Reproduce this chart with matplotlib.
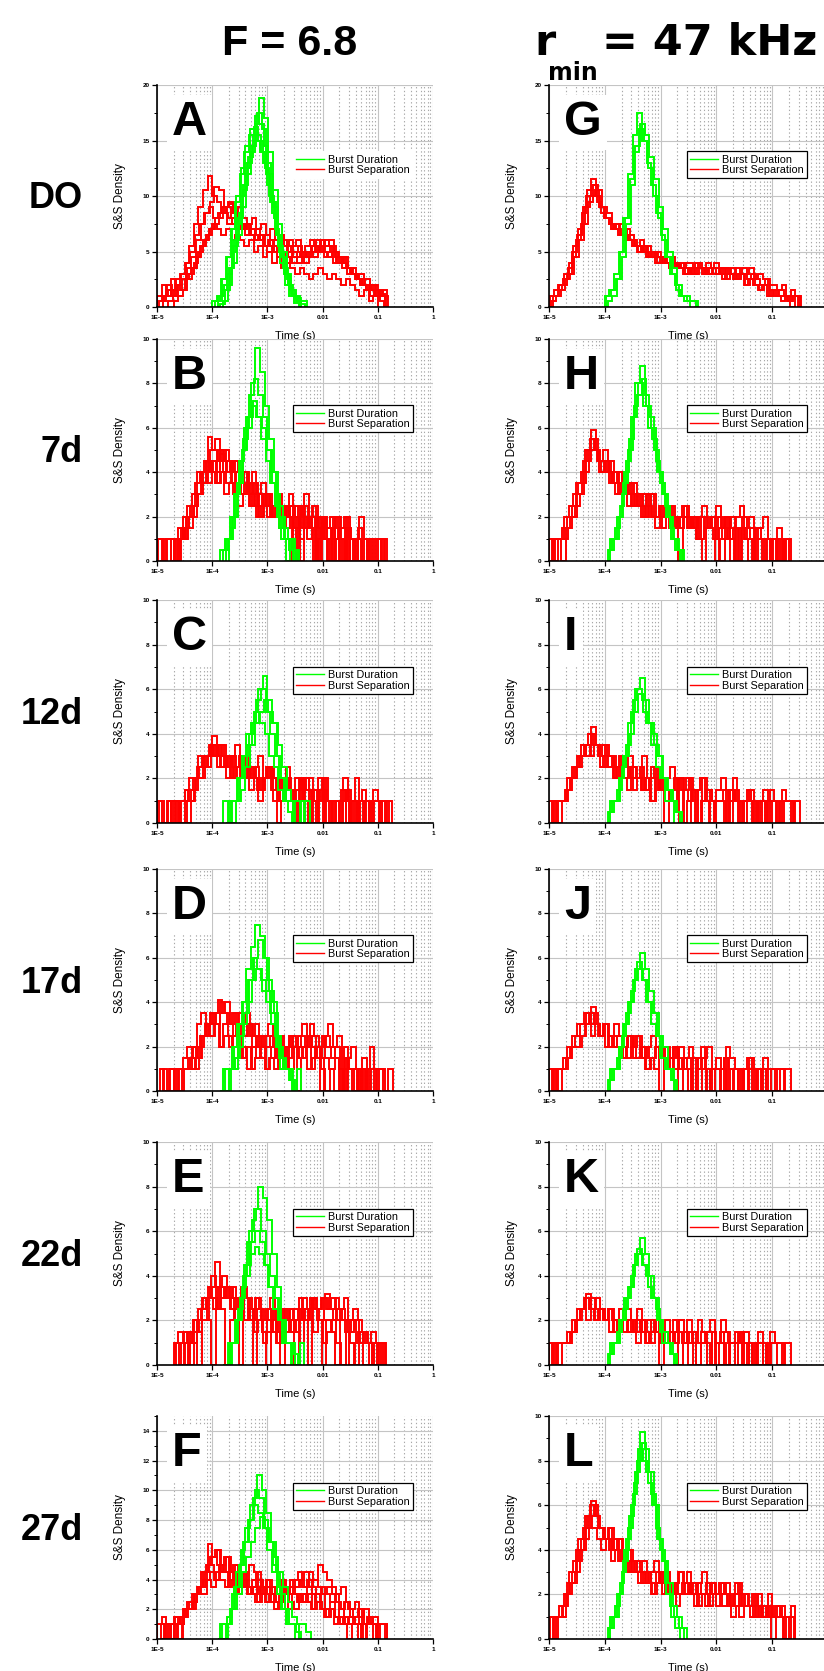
import numpy as np
import matplotlib
matplotlib.use('Agg')
import matplotlib.pyplot as plt
from matplotlib.lines import Line2D
from matplotlib.ticker import MultipleLocator, FixedLocator, NullFormatter

plt.rcParams['font.family'] = ['Liberation Sans', 'DejaVu Sans']

# ---------------- data ----------------
BIN_STEP = 1 / 12  # histogram bin width in decades

x_ticks = [1e-5, 1e-4, 1e-3, 1e-2, 1e-1, 1]
x_tick_labels = ['1E-5', '1E-4', '1E-3', '0.01', '0.1', '1']
row_labels = ['DO', '7d', '12d', '17d', '22d', '27d']
left_letters = ['A', 'B', 'C', 'D', 'E', 'F']
right_letters = ['G', 'H', 'I', 'J', 'K', 'L']
legend_labels = ['Burst Duration', 'Burst Separation']
header_left = 'F = 6.8'
y_max = {'A': 20, 'B': 10, 'C': 10, 'D': 10, 'E': 10, 'F': 15,
         'G': 20, 'H': 10, 'I': 10, 'J': 10, 'K': 10, 'L': 10}
y_step = {'A': 5, 'B': 2, 'C': 2, 'D': 2, 'E': 2, 'F': 2,
          'G': 5, 'H': 2, 'I': 2, 'J': 2, 'K': 2, 'L': 2}

# ---- Panel A ----
A_green_start = [-3.9, -3.85, -4.0, -3.9, -3.8, -3.95]
A_green = [
    [0.5, 1.5, 3, 5, 7.5, 10, 12.5, 14.5, 16.5, 18.8, 17, 14, 10.5, 7.5, 5, 3, 1.5, 0.8, 0.3],
    [0.3, 1.5, 3.5, 6, 8.5, 11, 13.5, 15.5, 17.5, 16, 13, 9.5, 6.5, 4, 2, 1, 0.4],
    [0.5, 1, 2.5, 4.5, 7, 9.5, 12, 14, 15.5, 16.2, 15, 13, 11, 8.5, 6.5, 4.5, 3, 1.5, 1],
    [1, 2.5, 4.5, 7, 10, 12.5, 14.5, 16, 17.2, 16.5, 14.5, 12, 9, 6.5, 4.5, 2.5, 1.2, 0.5],
    [0.5, 2, 4, 6.5, 9, 12, 14, 15, 14, 12.5, 10, 8, 5.5, 3.5, 2, 1, 0.5],
    [0.5, 1, 2, 3.5, 5.5, 8, 10.5, 13, 14.5, 15.5, 14, 12, 9.5, 7, 5, 3, 2, 1, 0.5, 0.5],
]
A_red_start = [-5.0, -4.96, -4.7, -5.0, -4.9, -4.8]
A_red = [
    [1, 2, 1, 2.5, 2, 3, 4, 5.5, 7.5, 9, 10.5, 11.8, 10, 9.5, 8.5, 9, 8, 7.5,
     7, 7.5, 6.5, 6, 6.5, 5.5, 5, 5.5, 4.5, 5, 4, 4.5, 4.5, 5, 4, 5, 4.5, 5.5,
     5, 4.5, 5.5, 4, 4.5, 3.5, 3, 2.5, 3, 2, 1.5, 2, 1, 1.5],
    [0.5, 1, 1.5, 1, 2, 2.5, 3.5, 4.5, 6, 7.5, 8.5, 9.5, 10.8, 10.5, 9, 9.5, 8.5, 8,
     7, 7.5, 6.5, 7, 6, 6.5, 5.5, 6, 5, 5.5, 4.5, 5, 4, 4.5, 5, 5.5, 6, 5,
     5.5, 6, 5, 4.5, 4, 3.5, 3, 2.5, 2, 1.5, 2, 1, 1],
    [0.5, 1, 1.5, 2.5, 3.5, 4.5, 5.5, 6.5, 7, 8, 8.5, 9, 9.3, 8.5, 9, 8, 7.5, 8,
     7, 7.5, 6.5, 7, 6, 6.5, 5.5, 6, 5, 5.5, 4.5, 5, 5.5, 5, 6, 5.5, 5, 4.5,
     4, 4.5, 3.5, 3, 2.5, 2, 1.5, 2, 1, 1.2],
    [1, 0.5, 1.5, 1, 2, 1.5, 2.5, 3, 4, 5, 6, 6.5, 7.5, 7, 6.5, 7, 6, 6.5,
     6, 5.5, 6, 5, 5.5, 4.5, 5, 4, 4.5, 3.5, 4, 3.5, 3, 3.5, 3, 2.5, 3, 3.5,
     3, 2.5, 3, 2.5, 2, 2.5, 2, 1.5, 1, 1.5, 0.5, 1],
    [1, 2, 1.5, 2.5, 3, 4, 5, 6.5, 7.5, 8.5, 9, 8, 8.5, 9, 7.5, 8, 7, 7.5,
     6.5, 7, 6, 6.5, 5.5, 6, 5, 5.5, 6, 5, 5.5, 6, 5, 5.5, 6, 5.5, 5, 4.5,
     5, 4, 4.5, 3.5, 3, 3.5, 2.5, 2, 2.5, 1.5, 1, 1.5, 1],
    [0.5, 1, 2, 1.5, 3, 3.5, 4.5, 5.5, 6, 7, 7.5, 8, 8.5, 8, 7.5, 8.5, 7, 7.5,
     6.5, 7, 6, 5.5, 6, 5, 5.5, 4.5, 5, 4, 4.5, 5, 4.5, 5, 5.5, 5, 6, 5.5,
     5, 4.5, 4, 3.5, 3, 2.5, 2, 1.5, 1, 1.5, 0.5],
]

# ---- Panel B ----
B_green_start = [-3.8, -3.75, -3.85, -3.7]
B_green = [
    [0.5, 1, 2, 3.5, 5, 6.5, 8, 9.6, 8.5, 7, 5.5, 4, 2.5, 1.5, 1, 0.5],
    [1, 1.5, 3, 4.5, 6, 7.5, 8.2, 7.5, 6.5, 5, 3.5, 2, 1, 0, 1],
    [0.5, 1, 2, 3, 4.5, 5.5, 6.5, 7.2, 6.5, 6, 5, 4, 3, 2, 1, 1, 0.5],
    [1, 2, 3.5, 5, 6, 7, 6.5, 5.5, 4.5, 3.5, 2.5, 1.5, 1, 0.5],
]
B_red_start = [-5.0, -4.95, -4.6, -4.75, -4.98, -4.7]
B_red = [
    [1, 0, 1, 0, 1, 1, 1.5, 2, 2.5, 3, 4, 5.6, 5, 4.5, 5, 4, 4.5, 4,
     3.5, 4, 3, 3.5, 3, 2.5, 3, 2.5, 3, 2, 2.5, 2, 2.5, 0, 3, 2, 2.5, 1.5,
     2, 0, 1.5, 2, 1, 2, 0, 1, 2, 0, 1, 1, 0, 1],
    [0, 1, 1, 0, 1.5, 1, 2, 2.5, 3, 4, 4.5, 5, 5.5, 4.5, 5, 4.5, 4, 4.5,
     4, 3.5, 4, 3, 3.5, 3, 2.5, 3, 2, 2.5, 3, 2, 2.5, 2, 1.5, 2.5, 0, 2,
     1.5, 2, 0, 1.5, 2, 1, 0, 1.5, 0, 1, 1, 0, 1],
    [1, 1, 1.5, 2, 3, 3.5, 4, 4.5, 4, 4.8, 4.5, 4, 4.5, 3.5, 4, 3, 3.5, 2.5,
     3, 2.5, 2, 3, 2.5, 2, 2.5, 1.5, 2, 2.5, 1.5, 2, 0, 2, 1.5, 1, 2, 0,
     1.5, 1, 0, 1, 1, 0, 1, 1],
    [1, 0, 1, 1.5, 2, 2.5, 3, 4, 3.5, 4.5, 3.5, 4, 3.5, 4, 3, 3.5, 3, 2.5,
     3, 2, 2.5, 2, 2.5, 2, 2, 1.5, 2.5, 2, 1, 2, 1.5, 0, 1, 2, 1, 0,
     1, 1, 0, 1],
    [1, 0, 1, 1, 0, 1.5, 2, 2.5, 3.5, 4, 4.5, 4, 4.5, 5, 4, 4.5, 3.5, 4,
     3, 3.5, 2.5, 3, 2, 3, 2.5, 2, 3, 2.5, 2, 0, 2, 2.5, 1.5, 2, 0, 2,
     1, 0, 2, 1, 0, 1.5, 1, 0, 1, 1, 0, 1, 1, 0],
    [1, 1, 2, 2.5, 3, 4, 3.5, 4.5, 4, 3.5, 4, 3, 3.5, 3, 2.5, 3, 3.5, 2.5,
     2, 2.5, 3, 2, 2.5, 1.5, 2, 2.5, 0, 2, 1.5, 1, 2, 0, 1.5, 1, 0, 1,
     1, 0, 1, 1, 0, 1],
]

# ---- Panel C ----
C_green_start = [-3.75, -3.7, -3.65, -3.8]
C_green = [
    [0, 1, 1, 2, 3, 4, 5, 6, 6.6, 5.5, 4.5, 3, 2, 1, 1, 0, 1],
    [1, 1, 2, 2.5, 3.5, 4.5, 5.5, 6, 5, 4, 3, 2, 1, 1],
    [0, 1, 1.5, 2.5, 3.5, 4.5, 5, 5.5, 5, 4.5, 3.5, 2.5, 1.5, 1, 1, 0, 1],
    [1, 0, 1, 2, 3, 4, 4.5, 5, 4.5, 4, 3, 2.5, 1.5, 1, 0.5],
]
C_red_start = [-5.0, -4.9, -4.6, -4.96, -4.75]
C_red = [
    [1, 0, 0, 1, 0, 1, 1.5, 1, 1.5, 2, 2.5, 3, 3.9, 3, 3.5, 2.5, 3, 3.5,
     2.5, 3, 2, 2.5, 3, 2, 2.5, 2, 1.5, 2, 2.5, 1.5, 2, 0, 2, 1.5, 0, 2,
     1.5, 1, 0, 1, 1.5, 0, 1, 2, 0, 1, 0, 1.5, 1, 0, 1],
    [0, 1, 1, 0, 1, 1, 1, 2, 2.5, 3, 3.5, 3, 3.5, 3, 2.5, 3, 2, 2.5,
     3, 2, 2.5, 1.5, 2, 2.5, 1, 2, 1.5, 2, 1, 1.5, 2, 0, 1, 1.5, 0, 2,
     1, 0, 0, 1, 1.5, 0, 1, 0, 1, 0, 1, 0],
    [1, 1, 1.5, 2, 2.5, 3, 2.5, 3.5, 3, 2.5, 3, 2, 2.5, 3, 2, 2.5, 2, 1.5,
     2, 2.5, 1.5, 2, 1, 2, 1.5, 0, 2, 1, 0, 1.5, 1, 2, 0, 1, 0, 1,
     1.5, 0, 1, 0, 1, 1, 0, 0, 1],
    [1, 0, 1, 0, 1, 1, 0, 1.5, 2, 2, 3, 3.5, 3, 3.5, 2.5, 3, 2, 2.5,
     3, 2, 2.5, 2, 1.5, 2, 2.5, 2, 1, 2, 1.5, 0, 1, 2, 1.5, 0, 1, 1.5,
     0, 1, 1, 0, 2, 1, 0, 1, 1.5, 0, 1, 1, 0, 1],
    [1, 1, 0, 1.5, 2, 2, 3, 2.5, 3, 3.5, 2.5, 3, 2, 3, 2.5, 2, 2.5, 1.5,
     2, 1, 2, 2.5, 1.5, 0, 1, 2, 1.5, 0, 1, 1, 2, 1, 0, 1.5, 1, 0,
     1, 1, 0, 1, 1, 0, 1, 0, 1, 1],
]

# ---- Panel D ----
D_green_start = [-3.8, -3.75, -3.7, -3.85]
D_green = [
    [1, 1, 2, 3, 4, 5.5, 6.5, 7.5, 7, 6, 4.5, 3.5, 2, 1, 1, 0, 1],
    [0, 1, 1.5, 2.5, 3.5, 5, 6, 6.8, 6, 5, 4, 2.5, 1.5, 1, 0.5],
    [1, 1, 2, 3, 4, 5, 5.5, 5, 4.5, 3.5, 2.5, 1.5, 1, 1],
    [0, 1, 1, 2, 3, 4, 5, 6, 5.5, 4.5, 4, 3, 2, 1, 1, 0.5],
]
D_red_start = [-4.9, -4.85, -4.55, -4.95, -4.7]
D_red = [
    [1, 0, 0, 1, 1, 1, 1.5, 1, 2, 2.5, 3, 3.5, 4.1, 3.5, 3, 3.5, 2.5, 3,
     3.5, 2.5, 3, 2, 2.5, 3, 2, 2.5, 1.5, 2, 2.5, 2, 2.5, 2, 3, 2.5, 2, 2.5,
     3, 2, 2.5, 0, 1.5, 2, 1, 0, 1, 2, 0, 1, 0, 1],
    [0, 1, 1, 0, 1, 1.5, 2, 1.5, 2.5, 3, 3.5, 3, 3.5, 4, 3, 3.5, 3, 2.5,
     3, 2.5, 2, 2.5, 2, 1.5, 2, 1.5, 2, 1, 2, 1.5, 2, 2.5, 2, 1.5, 2.5, 2,
     1.5, 2, 0, 1.5, 1, 0, 1, 0, 1, 1, 0],
    [1, 1, 1, 2, 2.5, 3, 2.5, 3, 2, 3, 2.5, 2, 2.5, 1.5, 2, 1, 1.5, 2,
     1, 1.5, 1, 2, 1, 1.5, 2, 0, 1.5, 2, 1, 2, 0, 1.5, 1, 0, 0, 1,
     1, 0, 1, 0, 1],
    [1, 0, 1, 0, 1, 1, 1, 2, 1.5, 2.5, 3, 3.5, 3, 4, 3.5, 3, 2.5, 3.5,
     2.5, 3, 2, 2.5, 1.5, 2, 2.5, 2, 1, 2, 2.5, 2, 2.5, 3, 2, 2.5, 2, 1.5,
     2.5, 2, 1.5, 0, 2, 1, 1, 0, 1.5, 1, 0, 1, 1, 0],
    [1, 1, 1.5, 2, 2, 3, 3.5, 3, 2.5, 3, 2, 2.5, 2, 2.5, 1.5, 2, 1, 2,
     1.5, 2, 1, 1.5, 2, 2.5, 2, 2.5, 2, 1.5, 2, 1, 1.5, 2, 1, 0, 1, 1.5,
     1, 0, 1, 1, 0, 1],
]

# ---- Panel E ----
E_green_start = [-3.75, -3.7, -3.8, -3.65]
E_green = [
    [0, 1, 2, 3, 4.5, 6, 7, 8, 7.5, 6.5, 5, 3.5, 2, 1, 1, 0, 1],
    [1, 1, 2.5, 4, 5.5, 6.5, 7, 6, 5, 4, 3, 2, 1, 1, 0.5],
    [0, 1, 1, 2, 3.5, 4.5, 5.5, 6, 5.5, 4.5, 3.5, 3, 2, 1, 1, 0],
    [1, 2, 3, 4, 5, 5.3, 5, 4.5, 3.5, 2.5, 2, 1, 1],
]
E_red_start = [-4.7, -4.65, -4.5, -4.68, -4.6]
E_red = [
    [1, 1.5, 1, 1.5, 1, 2, 2.5, 3, 3.5, 4.6, 3.5, 3, 3.5, 3, 2.5, 3.5, 3, 2.5,
     3, 2, 2.5, 3, 2, 2.5, 1.5, 2, 2.5, 2, 3, 2.5, 3, 2.5, 3, 3.2, 2.5, 3,
     2.5, 3, 2, 2.5, 2, 1.5, 1, 1.5, 1, 1],
    [1, 0, 0, 1.5, 1.5, 2, 2, 3, 2.5, 3.5, 4, 3, 3.5, 2.5, 3.5, 3, 2, 3,
     2.5, 2, 2.5, 1.5, 2, 2.5, 2, 1.5, 2, 2.5, 2, 3, 2.5, 2, 3, 2.5, 2, 2.5,
     2, 1.5, 2, 1, 1.5, 1, 1, 0, 1],
    [1, 0, 2, 2.5, 3, 3.5, 3, 2.5, 3.5, 3, 2.5, 2, 3, 2, 2.5, 1.5, 2, 1,
     1.5, 2, 1, 1.5, 2, 1.5, 2, 1, 2.5, 2, 1.5, 2, 1, 1.5, 2, 1, 0, 1.5,
     1, 0, 1, 1, 0, 1],
    [1, 1, 1.5, 1, 2, 1.5, 2.5, 3, 4, 3.5, 3, 3.5, 2.5, 3, 2, 3, 2.5, 2,
     2.5, 1.5, 2, 2.5, 1, 2, 2, 2.5, 1.5, 3, 2.5, 2, 3, 2.5, 3, 2.5, 3, 2,
     2.5, 2, 1.5, 2, 1, 1.5, 1, 0, 1, 1],
    [1, 0, 1, 2, 0, 3, 2, 0, 3.5, 2.5, 0, 2, 2.5, 0, 2, 2.5, 0, 2,
     1.5, 0, 2, 1.5, 0, 2.5, 2, 0, 2.5, 2, 0, 3, 2, 0, 2, 1.5, 0, 2,
     1.5, 0, 1, 1.5, 0, 0, 1, 1],
]

# ---- Panel F ----
F_green_start = [-3.85, -3.9, -3.75, -3.8]
F_green = [
    [1, 1, 2, 3.5, 5, 6.5, 8, 9.5, 11, 10, 8.5, 6.5, 4.5, 3, 2, 1, 1],
    [0, 1, 1.5, 3, 4.5, 6, 7.5, 9, 10, 9.5, 8, 6.5, 5, 3.5, 2, 1, 1, 0.5],
    [1, 2, 3.5, 5, 6.5, 8, 9, 8.5, 7.5, 6, 4.5, 3, 2, 1, 1],
    [0, 1, 2, 3, 4.5, 5.5, 6.5, 7.5, 8.2, 7.5, 6.5, 5.5, 4.5, 3.5, 2.5, 1.5, 1, 1, 0.5],
]
F_red_start = [-5.0, -4.95, -4.7, -4.85, -4.92, -4.8]
F_red = [
    [1, 1.5, 1, 0, 1, 1.5, 2, 2.5, 3, 3.5, 4.5, 6.4, 5.5, 6, 5, 5.5, 4.5, 5,
     4.5, 4, 5, 4.5, 4, 3.5, 4, 3.5, 3, 4, 3.5, 3, 3.5, 4, 3.5, 4.5, 4, 5,
     4.5, 4, 3.5, 3, 3.5, 2.5, 2, 2.5, 1.5, 2, 1, 1.5, 1, 1],
    [0, 1, 1, 1.5, 1, 2, 2.5, 3, 3.5, 4.5, 5, 5.5, 6, 5, 5.5, 4.5, 5, 4,
     4.5, 3.5, 4, 4.5, 3.5, 4, 3, 3.5, 4, 3, 3.5, 4, 4.5, 3.5, 4, 3.5, 3, 3.5,
     3, 2.5, 3, 2, 2.5, 2, 1.5, 2, 1, 1.5, 1, 1, 1],
    [1, 0, 1.5, 2, 2.5, 3, 3.5, 4, 4.5, 4, 5, 4.5, 4, 4.5, 3.5, 4, 3, 3.5,
     4, 3, 3.5, 2.5, 3, 2.5, 3, 3.5, 3, 2.5, 3, 3.5, 3, 2.5, 3, 2, 2.5, 1.5,
     2, 1, 1.5, 1, 1, 0, 1, 1],
    [1, 0, 1, 1, 1.5, 2, 2.5, 3, 3, 4, 3.5, 4.5, 4, 3.5, 4.5, 3, 4, 3.5,
     3, 3.5, 2.5, 3, 2.5, 3, 2.5, 2, 3, 2.5, 2, 3, 2.5, 3, 2, 2.5, 2, 1.5,
     2, 1.5, 1, 1.5, 1, 1, 0, 1, 1, 1],
    [1, 0, 1, 1.5, 1, 2, 2, 3, 3.5, 4, 5, 5.5, 5, 4.5, 5.5, 4, 4.5, 3.5,
     4, 3.5, 3, 4, 3, 3.5, 3, 2.5, 3.5, 3, 4, 3.5, 4, 4.5, 3.5, 4, 3.5, 3,
     3.5, 3, 2.5, 2, 2.5, 1.5, 1, 2, 1, 1.5, 0, 1, 1],
    [1, 1, 0, 1.5, 2, 2, 3, 3.5, 4.5, 5, 4, 5, 4.5, 3.5, 4, 3, 4.5, 3.5,
     3, 2.5, 3.5, 2.5, 3, 2, 2.5, 3, 2, 3, 2.5, 3, 2.5, 2, 3, 2, 1.5, 2,
     1, 1.5, 1, 0, 1, 1, 0, 1, 1, 1],
]

# ---- Panel G ----
G_green_start = [-4.0, -3.95, -3.97]
G_green = [
    [1, 1.5, 3, 5, 8, 12, 15.5, 17.5, 15, 13, 11, 8.5, 6.5, 4.5, 3, 2, 1, 0.5, 0.5, 0.5],
    [0.5, 1, 2.5, 4.5, 7.5, 11, 14.5, 16.5, 15.5, 13.5, 11.5, 9, 7, 5, 3.5, 2, 1, 0.5, 0.5],
    [1, 1.5, 2.5, 5, 8, 11.5, 14, 16, 15, 12.5, 10, 8, 6, 4.5, 3, 1.5, 1, 1],
]
G_red_start = [-5.0, -4.96, -4.98, -4.93]
G_red = [
    [1, 1.5, 2, 2.5, 3.5, 5, 6.5, 8.5, 10, 11.5, 10, 9, 8, 7.5, 7, 7.5, 6.5, 6,
     6, 5.5, 5, 5.5, 4.5, 5, 4.5, 4, 4.5, 4, 3.5, 4, 4, 3.5, 4, 3.5, 3, 3.5,
     3.5, 3, 3.5, 3, 3.5, 3, 3, 3.5, 2.5, 3, 2.5, 2, 2, 1.5, 2, 1, 1.5, 1],
    [0.5, 1, 1.5, 2.5, 3, 4.5, 6, 7.5, 9.5, 11, 10.5, 9, 8.5, 7.5, 7, 6.5, 7, 6,
     5.5, 6, 5, 4.5, 5, 4.5, 4, 4.5, 4, 3.5, 4, 3.5, 3, 4, 3.5, 3, 3.5, 4,
     3, 3.5, 3, 2.5, 3, 3.5, 2.5, 3, 2.5, 2, 2.5, 1.5, 1, 1.5, 1, 0.5, 1],
    [1, 1, 2, 3, 4, 5.5, 7, 9, 10.5, 11, 9.5, 8.5, 8, 7, 7.5, 6.5, 6, 6.5,
     5.5, 5, 5.5, 4.5, 5, 4, 4.5, 4, 3.5, 4, 3.5, 3, 3.5, 3, 3.5, 3, 3.5, 3,
     3, 2.5, 3, 3.5, 2.5, 3, 2, 2.5, 2, 1.5, 2, 1, 1.5, 1, 1, 0.5, 1, 1],
    [1, 1.5, 2, 3, 4.5, 6, 7.5, 9, 10, 10.5, 9, 8, 7.5, 7, 6.5, 7, 6, 5.5,
     5, 5.5, 4.5, 5, 4, 4.5, 4, 3.5, 4, 3.5, 3, 3.5, 3, 3.5, 3, 4, 3.5, 3,
     3.5, 2.5, 3, 2.5, 3, 2, 2.5, 2, 1.5, 2, 1, 1.5, 1, 0.5, 1, 0, 1],
]

# ---- Panel H ----
H_green_start = [-3.95, -3.9, -3.92]
H_green = [
    [0.5, 1, 2, 3, 4.5, 6.5, 8, 8.8, 7.5, 6.5, 5, 4, 3, 2, 1, 0.5],
    [1, 1.5, 2.5, 4, 5.5, 7, 8, 7, 6, 5.5, 4, 3, 2, 1, 0.5],
    [0.5, 1, 2, 3.5, 5, 6.5, 7.5, 8.2, 7, 6, 4.5, 3.5, 2.5, 1.5, 1, 0.5],
]
H_red_start = [-5.0, -4.95, -4.98, -4.93]
H_red = [
    [1, 0, 1, 1, 1.5, 2, 3, 3.5, 4.5, 5.9, 5, 4.5, 4, 4.5, 3.5, 4, 3.5, 3,
     3.5, 2.5, 3, 2.5, 3, 2, 2.5, 2, 2.5, 2, 1.5, 2.5, 2, 1.5, 2, 2.5, 1.5, 2,
     2.5, 1.5, 2, 0, 2, 2.5, 1.5, 2, 0, 1.5, 2, 1, 0, 1.5, 0, 1],
    [1, 1, 0, 1.5, 2, 2.5, 3, 4, 5, 5.5, 4.5, 5, 4, 3.5, 4, 3, 3.5, 2.5,
     3, 2.5, 2, 3, 2, 2.5, 2, 2.5, 1.5, 2, 2.5, 1.5, 2, 1, 2, 1.5, 2, 0,
     1.5, 2, 1, 1.5, 0, 2, 1, 0, 1.5, 1, 0, 1, 1, 0, 1],
    [0, 1, 1, 2, 2.5, 3, 3.5, 4.5, 5, 5, 4.5, 4, 4.5, 3.5, 3, 3.5, 3, 3.5,
     2.5, 3, 2, 2.5, 2, 2, 1.5, 2.5, 2, 1.5, 2, 2, 1.5, 2, 1, 2, 1.5, 1,
     2, 1, 1.5, 2, 0, 1.5, 1, 1.5, 0, 0, 1, 1, 0, 1],
    [1, 1, 1.5, 2, 2.5, 3.5, 4, 5, 5.5, 5, 4, 4.5, 3.5, 4, 3, 3.5, 2.5, 3,
     2.5, 2, 3, 2, 1.5, 2.5, 2, 1.5, 2, 0, 2, 1.5, 2, 1, 0, 1.5, 2, 1,
     0, 2, 1, 0, 1.5, 1, 0, 1, 1, 0, 1, 0, 1, 1],
]

# ---- Panel I ----
I_green_start = [-3.95, -3.9, -3.92]
I_green = [
    [0.5, 1, 1.5, 2.5, 3.5, 5, 6, 6.5, 5.5, 4.5, 3.5, 3, 2, 1.5, 1, 0.5],
    [1, 1, 2, 3, 4, 5, 5.8, 5, 4.5, 4, 3, 2, 1.5, 1, 0.5],
    [0.5, 1, 2, 3, 4.5, 5.5, 6, 5.5, 4.5, 3.5, 2.5, 2, 1, 1],
]
I_red_start = [-5.0, -4.96, -4.92, -4.94]
I_red = [
    [1, 0, 1, 1, 1.5, 2, 2.5, 3, 3.5, 4.3, 3.5, 3, 3.5, 3, 2.5, 3, 2.5, 3,
     2.5, 2, 3, 2, 2.5, 2, 1.5, 2, 2.5, 1.5, 2, 1.5, 2, 1.5, 0, 2, 1.5, 1,
     1.5, 2, 0, 1.5, 1, 0, 1, 1.5, 0, 1, 1.5, 0, 1, 0, 1.5, 1, 0, 1],
    [0, 1, 1, 1.5, 2, 2.5, 3, 3.5, 4, 3.5, 3, 3.5, 2.5, 3, 2, 3, 2.5, 2,
     2, 2.5, 1.5, 2, 2.5, 1.5, 2, 1.5, 1, 2, 1.5, 2, 0, 1.5, 2, 1, 0, 1,
     1, 1.5, 0, 2, 1, 0, 1.5, 1, 0, 1, 0, 1.5, 1, 0, 1, 1],
    [1, 1, 1, 2, 2.5, 3, 3.5, 3, 4, 3.5, 2.5, 3, 3, 2, 2.5, 2, 2.5, 1.5,
     2, 1.5, 2, 1, 2, 1.5, 1, 1.5, 2, 0, 1.5, 1, 1.5, 0, 1, 1.5, 1, 0,
     0, 1, 1, 1.5, 0, 1, 1, 0, 1, 1],
    [1, 0, 1, 1.5, 2, 2.5, 3, 3.5, 3, 3.5, 3, 2.5, 3, 2, 2.5, 2, 1.5, 2.5,
     2, 1.5, 2, 1, 2, 1.5, 0, 1.5, 1, 2, 0, 1, 1.5, 0, 1, 1.5, 0, 1,
     1, 0, 1.5, 1, 0, 1, 1, 0, 1, 0, 1, 1, 0, 1, 1, 1],
]

# ---- Panel J ----
J_green_start = [-3.95, -3.9, -3.92]
J_green = [
    [0.5, 1, 1.5, 2.5, 3.5, 4.5, 5.5, 6.2, 5.5, 4.5, 3.5, 2.5, 2, 1, 0.5],
    [1, 1, 2, 3, 4, 5, 5.5, 5, 4, 3.5, 2.5, 1.5, 1, 0.5],
    [0.5, 1, 2, 3, 4, 5, 5.8, 5, 4, 3, 2.5, 1.5, 1, 1],
]
J_red_start = [-5.0, -4.95, -4.92, -4.94]
J_red = [
    [1, 0, 1, 1, 1.5, 2, 2, 2.5, 3, 3.8, 3, 2.5, 3, 2.5, 3, 2.5, 2, 2.5,
     2, 2.5, 1.5, 2, 2.5, 2, 1.5, 2, 1.5, 2, 1, 1.5, 2, 1.5, 0, 1.5, 2, 1,
     1.5, 0, 2, 1.5, 1, 0, 1, 1.5, 0, 1, 1.5, 0, 0, 1, 1, 1],
    [0, 1, 1, 1.5, 2, 2.5, 3, 3.5, 3, 3.5, 2.5, 3, 2.5, 2, 2.5, 2, 1.5, 2,
     2.5, 1.5, 2, 1.5, 1, 2, 1.5, 1, 2, 1.5, 1, 1.5, 0, 1.5, 2, 1, 0, 1,
     1, 1.5, 0, 1, 0, 1, 1.5, 0, 1, 0, 1, 1, 0, 1],
    [1, 1, 1.5, 2, 2.5, 3, 3, 3.5, 2.5, 3, 2.5, 2, 2.5, 2, 1.5, 2, 2.5, 1.5,
     1.5, 2, 1, 1.5, 2, 1.5, 1, 1.5, 1, 2, 1, 0, 1.5, 1, 1, 0, 1, 1,
     1, 0, 1, 1, 1, 0, 1, 1, 1],
    [1, 0, 1, 1.5, 2, 2, 2.5, 3, 3.5, 3, 2.5, 3, 2, 2.5, 2, 1.5, 2.5, 2,
     1.5, 2, 1, 1.5, 2, 0, 1.5, 1, 2, 0, 1.5, 1, 0, 1, 1.5, 0, 1, 1,
     0, 1.5, 1, 0, 1, 0, 1, 1, 0, 1, 0, 1, 1, 1],
]

# ---- Panel K ----
K_green_start = [-3.95, -3.9, -3.92]
K_green = [
    [0.5, 1, 1.5, 2, 3, 4, 5, 5.7, 5, 4, 3, 2, 1.5, 1, 0.5],
    [1, 1, 2, 3, 3.5, 4.5, 5, 4.5, 3.5, 3, 2, 1, 1, 0.5],
    [0.5, 1, 2, 2.5, 3.5, 4.5, 5.2, 4.5, 4, 3, 2.5, 1.5, 1, 0.5],
]
K_red_start = [-5.0, -4.95, -4.92, -4.94]
K_red = [
    [1, 0, 1, 1, 1, 1.5, 2, 2.5, 3.2, 2.5, 3, 2.5, 2, 2.5, 2, 2.5, 2, 1.5,
     2, 2.5, 1.5, 2, 1.5, 2, 1.5, 2, 1.5, 1, 2, 1.5, 1, 1.5, 2, 1.5, 0, 1.5,
     1, 2, 1.5, 0, 1.5, 1, 1.5, 0, 1, 1.5, 0, 1, 1, 0, 1, 1],
    [0, 1, 1, 1, 1.5, 2, 2.5, 3, 2.5, 2, 2.5, 2, 2.5, 2, 1.5, 2, 2.5, 2,
     1.5, 2, 1, 1.5, 2, 1.5, 1, 1.5, 2, 1.5, 1, 1.5, 1.5, 0, 1, 1.5, 2, 1,
     0, 1.5, 1, 1, 1.5, 0, 1, 0, 1, 1, 0, 1.5, 1, 1],
    [1, 1, 1, 1.5, 2, 2.5, 2.5, 2, 3, 2, 2.5, 2, 1.5, 2, 2.5, 1.5, 2, 1.5,
     2, 1.5, 1, 2, 1.5, 1, 1.5, 1, 1.5, 2, 1, 0, 1.5, 1, 1, 1.5, 0, 1,
     1, 0, 1, 1, 1.5, 0, 1, 1, 0, 1],
    [1, 0, 1, 1, 1.5, 2, 2.5, 3, 2.5, 2, 2.5, 2, 2.5, 1.5, 2, 2, 1.5, 2,
     1, 2, 1.5, 1, 2, 0, 1.5, 1, 1.5, 0, 1, 2, 1, 0, 1.5, 1, 0, 1,
     1.5, 0, 1, 1, 0, 1, 1, 0, 1, 1, 0, 1, 1, 1],
]

# ---- Panel L ----
L_green_start = [-3.95, -3.9, -3.92]
L_green = [
    [0.5, 1, 2, 3, 4.5, 6, 7.5, 9.3, 8.5, 7.5, 6, 4.5, 3.5, 2.5, 1.5, 1, 0.5],
    [1, 1.5, 2.5, 4, 5.5, 7, 8.5, 8, 7, 6, 4.5, 3.5, 2, 1, 0.5],
    [0.5, 1, 2, 3.5, 5, 6.5, 8, 8.8, 7.5, 6.5, 5, 4, 2.5, 1.5, 1, 0.5],
]
L_red_start = [-5.0, -4.95, -4.98, -4.93]
L_red = [
    [1, 0, 1, 1.5, 2, 2.5, 3.5, 4, 5, 6.2, 5.5, 5, 4.5, 5, 4, 4.5, 3.5, 4,
     3.5, 3, 3.5, 3, 2.5, 3, 2.5, 3, 2, 2.5, 3, 2, 2.5, 2, 2.5, 3, 2, 2.5,
     2, 2.5, 2, 1.5, 2.5, 2, 2, 1.5, 2, 1.5, 1, 2, 1, 1.5, 1, 0, 1.5],
    [0, 1, 1, 2, 2.5, 3, 4, 4.5, 5.5, 6, 5, 4.5, 5, 4, 4.5, 3.5, 4, 3,
     3.5, 3, 2.5, 3, 3.5, 2.5, 3, 2, 2.5, 2, 2.5, 3, 2, 2.5, 2, 1.5, 2.5, 2,
     2.5, 2, 1.5, 2, 2.5, 1.5, 1.5, 2, 1, 1.5, 1, 1, 1.5, 1, 0, 1],
    [1, 1, 1.5, 2, 3, 3.5, 4.5, 5, 5.5, 5, 4.5, 4, 4.5, 3.5, 4, 3.5, 3, 3.5,
     3, 2.5, 3, 2.5, 2, 2.5, 2, 2.5, 2, 1.5, 2, 2.5, 2, 1.5, 2, 2, 1.5, 2,
     2, 1.5, 2, 1, 1.5, 2, 1.5, 1, 1.5, 1, 1, 1.5, 1, 1],
    [1, 1, 1.5, 2.5, 3, 4, 4.5, 5.5, 6, 5.5, 5, 4.5, 4, 4.5, 3.5, 4, 3, 3.5,
     3, 2.5, 3, 2, 2.5, 3, 2, 2.5, 2, 3, 2.5, 2, 2.5, 1.5, 2, 2.5, 2, 1.5,
     2, 2.5, 1.5, 2, 1, 2, 1.5, 1, 2, 1, 1.5, 0, 1, 1.5, 1, 1],
]

green_data = {'A': (A_green_start, A_green), 'B': (B_green_start, B_green),
              'C': (C_green_start, C_green), 'D': (D_green_start, D_green),
              'E': (E_green_start, E_green), 'F': (F_green_start, F_green),
              'G': (G_green_start, G_green), 'H': (H_green_start, H_green),
              'I': (I_green_start, I_green), 'J': (J_green_start, J_green),
              'K': (K_green_start, K_green), 'L': (L_green_start, L_green)}
red_data = {'A': (A_red_start, A_red), 'B': (B_red_start, B_red),
            'C': (C_red_start, C_red), 'D': (D_red_start, D_red),
            'E': (E_red_start, E_red), 'F': (F_red_start, F_red),
            'G': (G_red_start, G_red), 'H': (H_red_start, H_red),
            'I': (I_red_start, I_red), 'J': (J_red_start, J_red),
            'K': (K_red_start, K_red), 'L': (L_red_start, L_red)}

# ---------------- layout ----------------
W, H = 824, 1671
fig = plt.figure(figsize=(W / 100, H / 100), dpi=100)
fig.patch.set_facecolor('white')

rows_px = [(85, 307), (339, 561), (600, 823), (869, 1091), (1142, 1365), (1416, 1639)]
cols_px = [(157, 276), (549, 279)]

GREEN = '#00ff00'
RED = '#ff0000'
LW = 1.4


def px_rect(x0, w, top, bottom):
    return [x0 / W, 1 - bottom / H, w / W, (bottom - top) / H]


def draw_panel(ax, letter, w_px, h_px, legend_frame=True, show_last_label=True):
    gs, gv = green_data[letter]
    rs, rv = red_data[letter]
    n = max(len(gv), len(rv))
    for k in range(n):
        if k < len(rv):
            v = np.array(rv[k], dtype=float)
            e = 10 ** (rs[k] + BIN_STEP * np.arange(len(v) + 1))
            ax.stairs(v, e, baseline=0, color=RED, lw=LW, zorder=2)
        if k < len(gv):
            v = np.array(gv[k], dtype=float)
            e = 10 ** (gs[k] + BIN_STEP * np.arange(len(v) + 1))
            ax.stairs(v, e, baseline=0, color=GREEN, lw=LW, zorder=2.1)

    ax.set_xscale('log')
    ax.set_xlim(1e-5, 1)
    ax.set_ylim(0, y_max[letter])
    labels = list(x_tick_labels)
    if not show_last_label:
        labels[-1] = ''
    ax.set_xticks(x_ticks, labels)
    minors = [m * 10.0 ** d for d in range(-5, 0) for m in range(2, 10)]
    ax.xaxis.set_minor_locator(FixedLocator(minors))
    ax.xaxis.set_minor_formatter(NullFormatter())
    ax.yaxis.set_major_locator(MultipleLocator(y_step[letter]))
    ax.yaxis.set_minor_locator(MultipleLocator(y_step[letter] / 2))

    ax.set_axisbelow(True)
    ax.grid(which='major', axis='both', color='#c4c4c4', lw=0.8, ls='-')
    ax.grid(which='minor', axis='x', color='#a8a8a8', lw=0.8, ls=(0, (1.2, 2.2)))

    for s in ('top', 'right'):
        ax.spines[s].set_visible(False)
    for s in ('left', 'bottom'):
        ax.spines[s].set_linewidth(1.2)
        ax.spines[s].set_color('black')
    ax.tick_params(axis='both', which='major', direction='out', length=3.5, width=0.9,
                   labelsize=4.6, pad=2)
    ax.tick_params(axis='x', which='minor', length=0)
    ax.tick_params(axis='y', which='minor', direction='out', length=2, width=0.7)
    for lab in ax.get_xticklabels() + ax.get_yticklabels():
        lab.set_fontweight('bold')

    ax.set_ylabel('S&S Density', fontsize=8.5)
    ax.yaxis.set_label_coords(-0.134, 0.5)
    ax.set_xlabel('Time (s)', fontsize=8)
    ax.xaxis.set_label_coords(0.5, -29 / h_px)
    ax.xaxis.label.set_va('center')
    ax.yaxis.label.set_va('center')

    ax.text(15 / w_px, 1 - 50 / h_px, letter, transform=ax.transAxes,
            fontsize=35, fontweight='bold', ha='left', va='baseline', zorder=3,
            bbox=dict(facecolor='white', edgecolor='none', pad=4))

    handles = [Line2D([], [], color=GREEN, lw=1.0), Line2D([], [], color=RED, lw=1.0)]
    leg = ax.legend(handles, legend_labels, loc='center', bbox_to_anchor=(0.71, 0.64),
                    fontsize=7.8, frameon=True, fancybox=False, framealpha=1,
                    edgecolor='black' if legend_frame else 'white',
                    borderpad=0.3, handlelength=2.6, handletextpad=0.4,
                    labelspacing=0.05, borderaxespad=0)
    leg.get_frame().set_linewidth(0.9)
    leg.set_zorder(5)


for r, (top, bottom) in enumerate(rows_px):
    for c, (x0, w) in enumerate(cols_px):
        letter = left_letters[r] if c == 0 else right_letters[r]
        ax = fig.add_axes(px_rect(x0, w, top, bottom))
        draw_panel(ax, letter, w, bottom - top, legend_frame=(letter != 'A'),
                   show_last_label=(c == 0))
    fig.text(83 / W, 1 - ((top + bottom) / 2 + 3) / H, row_labels[r],
             fontsize=26, fontweight='bold', ha='right', va='center')

# headers
fig.text(290 / W, 1 - 55 / H, header_left, fontsize=31, fontweight='bold',
         ha='center', va='baseline')
fig.text(534 / W, 1 - 55 / H, 'r', fontsize=31, fontweight='bold', ha='left', va='baseline',
         family='DejaVu Sans')
fig.text(548 / W, 1 - 80 / H, 'min', fontsize=17, fontweight='bold', ha='left', va='baseline',
         family='DejaVu Sans')
fig.text(602 / W, 1 - 55 / H, '= 47 kHz', fontsize=31, fontweight='bold', ha='left',
         va='baseline', family='DejaVu Sans')

fig.savefig('out.png', dpi=100, facecolor='white')
